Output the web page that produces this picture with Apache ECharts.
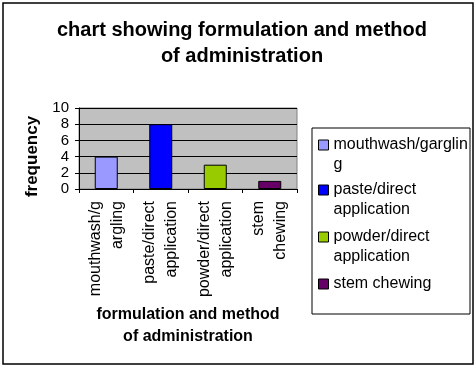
<!DOCTYPE html>
<html><head><meta charset="utf-8">
<script src="https://cdn.jsdelivr.net/npm/echarts@6/dist/echarts.min.js"></script>
<style>html,body{margin:0;padding:0;background:#fff}#c{width:476px;height:366px}</style>
</head><body><div id="c"></div>
<script>
const categories = ['mouthwash/g\nargling', 'paste/direct\napplication', 'powder/direct\napplication', 'stem\nchewing'];
const legendNames = ['mouthwash/garglin\ng', 'paste/direct\napplication', 'powder/direct\napplication', 'stem chewing'];
const values = [4, 8, 3, 1];
const colors = ['#9999FF', '#0000FF', '#99CC00', '#660066'];
const yTicks = [0, 2, 4, 6, 8, 10];

const F = 'Arial, "Liberation Sans", sans-serif';
const chart = echarts.init(document.getElementById('c'));

const series = legendNames.map((n, i) => ({
  name: n, type: 'bar', stack: 's', barWidth: 23,
  data: values.map((v, j) => j === i ? v : '-'),
  itemStyle: { color: colors[i], borderColor: '#000', borderWidth: 1 }
}));

const legendTops = [115, 160, 207, 274];
const legends = legendNames.map((n, i) => {
  const two = n.indexOf('\n') >= 0;
  return {
    left: 318, top: legendTops[i], orient: 'vertical', padding: 0,
    itemWidth: 10, itemHeight: 10, itemGap: 0, icon: 'rect', selectedMode: false,
    itemStyle: { borderColor: '#000', borderWidth: 1 },
    formatter: two ? '\n{name}' : '{name}',
    textStyle: { fontFamily: F, fontSize: 16, color: '#000', lineHeight: 20 },
    data: [{ name: n }]
  };
});

chart.setOption({
  animation: false,
  title: {
    text: 'chart showing formulation and method\nof administration',
    left: 237, top: 12, textAlign: 'center',
    textStyle: { fontFamily: F, fontSize: 20, fontWeight: 'bold', color: '#000', lineHeight: 26 }
  },
  graphic: [
    { type: 'rect', shape: { x: 3, y: 3, width: 470, height: 361 }, style: { fill: 'none', stroke: '#000', lineWidth: 1.5 }, z: -1 },
    { type: 'rect', shape: { x: 312, y: 128, width: 158, height: 186 }, style: { fill: '#fff', stroke: '#000', lineWidth: 1 }, z: -1 }
  ],
  legend: legends,
  grid: { left: 79, top: 108, width: 218, height: 81, show: true, backgroundColor: '#C0C0C0', borderColor: '#808080', borderWidth: 1 },
  xAxis: {
    type: 'category', data: categories,
    name: 'formulation and method\nof administration', nameLocation: 'middle', nameGap: 115,
    nameTextStyle: { fontFamily: F, fontSize: 16, fontWeight: 'bold', color: '#000', lineHeight: 22 },
    axisLine: { lineStyle: { color: '#000' } },
    axisTick: { show: true, length: 4, lineStyle: { color: '#000' } },
    axisLabel: { rotate: 90, interval: 0, fontFamily: F, fontSize: 16, color: '#000', lineHeight: 22, margin: 12 }
  },
  yAxis: {
    type: 'value', min: yTicks[0], max: yTicks[yTicks.length - 1], interval: 2,
    name: 'frequency', nameLocation: 'middle', nameGap: 38, nameRotate: 90,
    nameTextStyle: { fontFamily: F, fontSize: 17, fontWeight: 'bold', color: '#000', padding: [0, 16, 0, 0] },
    axisLine: { show: true, lineStyle: { color: '#000' } },
    axisTick: { show: true, length: 4, lineStyle: { color: '#000' } },
    axisLabel: { fontFamily: F, fontSize: 15, color: '#000', margin: 10 },
    splitLine: { lineStyle: { color: '#000', width: 1 } }
  },
  series: series
});
</script></body></html>
